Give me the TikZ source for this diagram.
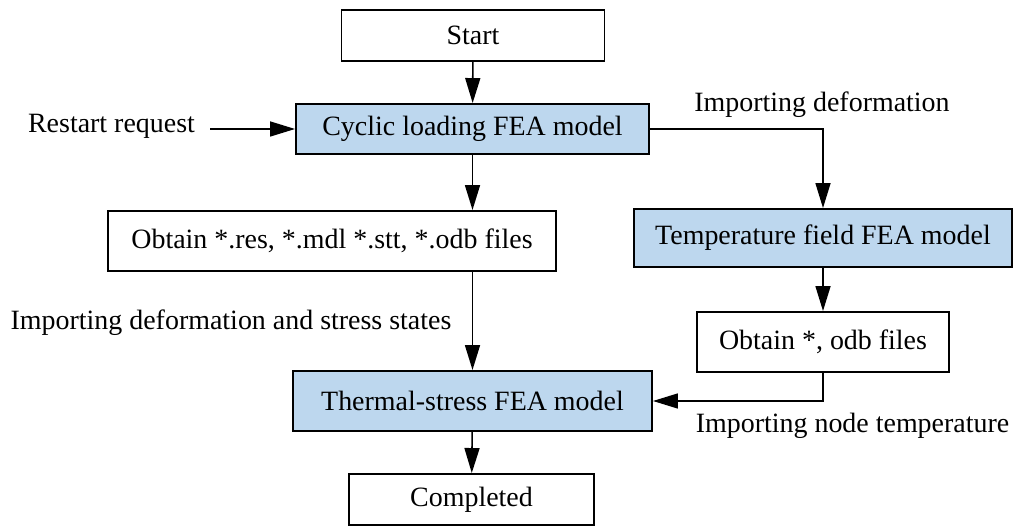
\documentclass[tikz,border=0pt]{standalone}
\usepackage{fontspec}
\setmainfont{Liberation Serif}
\usetikzlibrary{arrows.meta}
\definecolor{modelblue}{RGB}{189,215,238}

\begin{document}
\begin{tikzpicture}[>={Triangle[length=0.5cm,width=0.3cm]},
block/.style={draw=black,line width=1.1pt,fill=white,align=center,font=\fontsize{15.9}{19}\selectfont,minimum height=1.2cm,inner sep=2pt},
model/.style={block,fill=modelblue},
flow/.style={->,line width=0.9pt,draw=black},
lab/.style={font=\fontsize{15.9}{19}\selectfont,inner sep=0pt,anchor=base}]
\useasboundingbox (0,0) rectangle (20.32,-10.52);
\node[block,minimum width=5.26cm,minimum height=1.02cm] (start) at (9.46,-0.71) {Start};
\node[model,minimum width=7.06cm,minimum height=1.0cm] (cyclic) at (9.45,-2.58) {Cyclic loading FEA model};
\node[block,minimum width=8.96cm] (obtainres) at (6.64,-4.82) {Obtain *.res, *.mdl *.stt, *.odb files};
\node[model,minimum width=7.56cm,minimum height=1.16cm] (tempfield) at (16.46,-4.76) {Temperature field FEA model};
\node[block,minimum width=5.04cm] (obtainodb) at (16.46,-6.84) {Obtain *, odb files};
\node[model,minimum width=7.18cm] (thermal) at (9.45,-8.02) {Thermal-stress FEA model};
\node[block,minimum width=4.9cm,minimum height=1.02cm] (completed) at (9.43,-9.99) {Completed};
\node[lab] (restart) at (2.23,-2.66) {Restart request};
\node[lab] (impdef) at (16.44,-2.24) {Importing deformation};
\node[lab] (impstress) at (4.62,-6.59) {Importing deformation and stress states};
\node[lab] (imptemp) at (17.05,-8.66) {Importing node temperature};
\draw[flow] (start)--(cyclic);
\draw[flow] ([xshift=3mm]restart.east |- cyclic.west)--(cyclic.west);
\draw[flow] (cyclic.east)-|(tempfield.north);
\draw[flow] (cyclic.south)--(cyclic.south |- obtainres.north);
\draw[flow] (obtainres.south -| thermal.north)--(thermal.north);
\draw[flow] (tempfield)--(obtainodb);
\draw[flow] (obtainodb.south)|-(thermal.east);
\draw[flow] (thermal)--(completed);
\end{tikzpicture}
\end{document}
